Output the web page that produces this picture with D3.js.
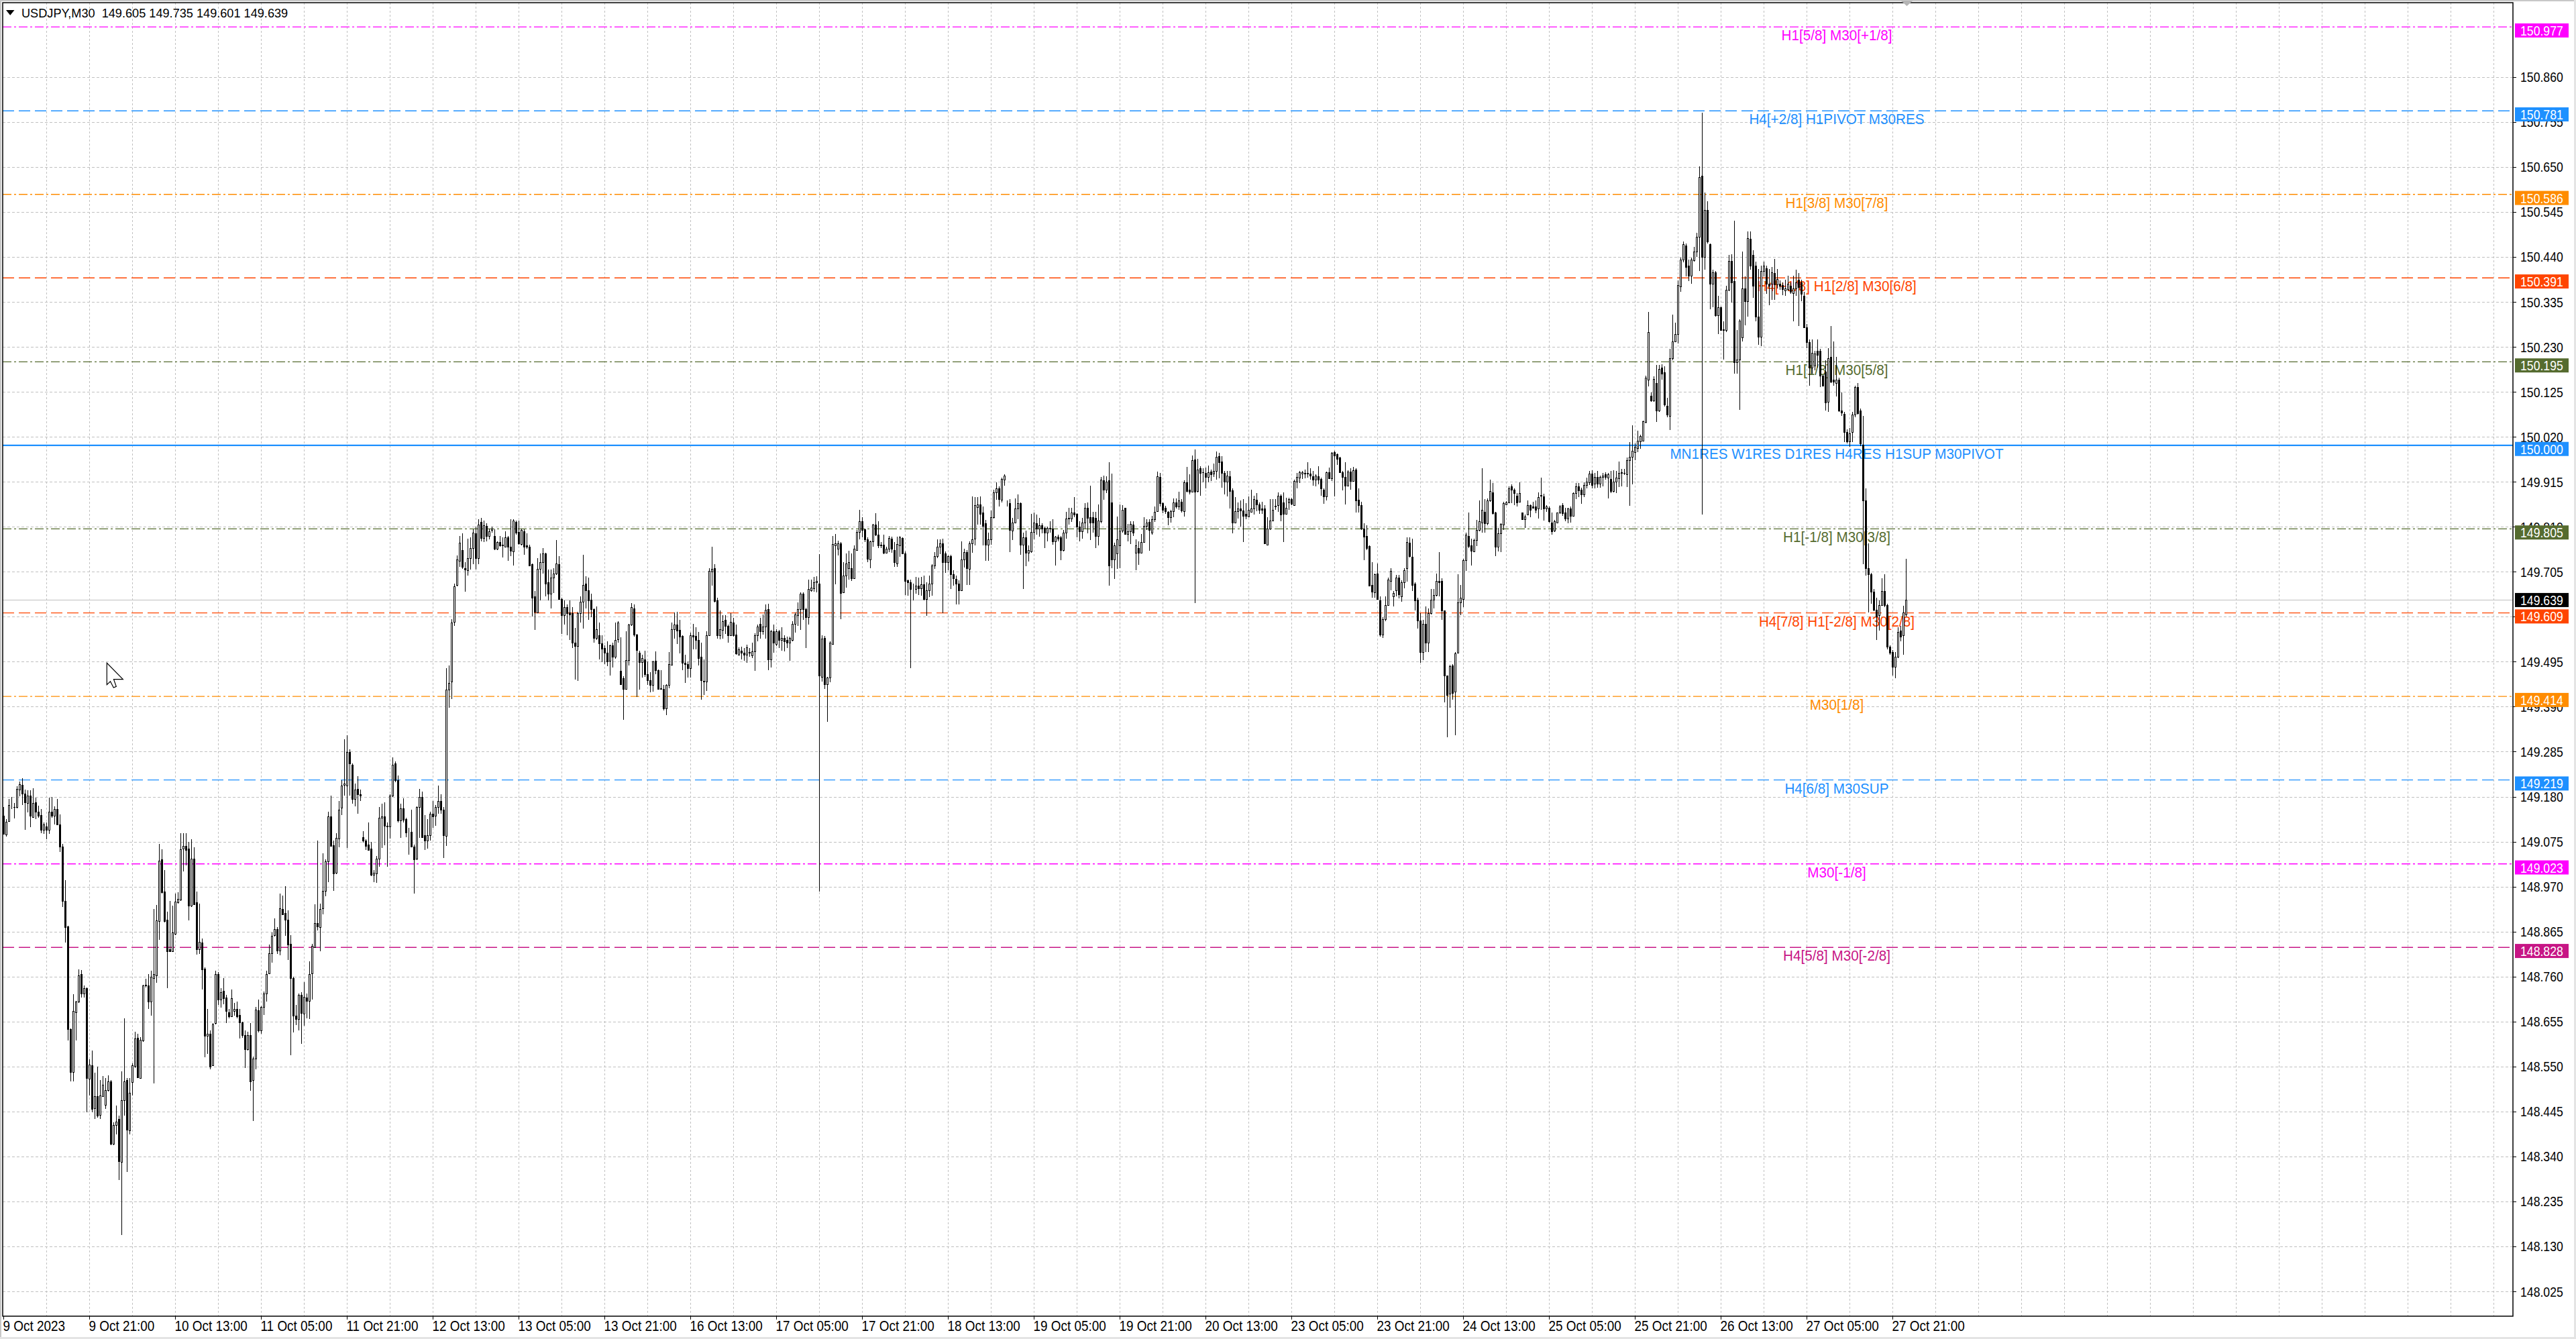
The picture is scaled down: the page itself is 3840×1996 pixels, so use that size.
<!DOCTYPE html>
<html><head><meta charset="utf-8">
<script src="https://cdn.jsdelivr.net/npm/d3@7"></script>
<style>html,body{margin:0;padding:0;background:#fff;overflow:hidden}svg{display:block}text{font-family:"Liberation Sans",Arial,sans-serif}</style>
</head><body><svg id="c" width="3840" height="1996"></svg>
<script>
// ---------------- DATA ----------------
const symbolTitle = "USDJPY,M30";
const headerOHLC = ["149.605", "149.735", "149.601", "149.639"];
// prices are stored in points: price = PRICE_BASE + pts * POINT
const PRICE_BASE = 148, POINT = 0.001;
const openPts = [
1135,1091,1123,1157,1156,1155,1197,1208,1187,1165,1183,1133,1167,1145,1137,1103,1111,1103,1145,1135,
1151,1115,1063,937,877,637,537,677,701,765,721,733,521,553,453,481,437,481,461,495,
515,369,413,427,327,471,519,401,513,551,617,523,611,739,739,701,757,763,889,1033,
959,893,823,819,859,933,939,1059,1065,1059,925,1035,933,823,839,779,621,627,553,651,
765,707,727,711,677,667,679,685,671,653,623,591,623,519,569,681,635,689,721,767,
815,857,871,821,917,909,893,837,757,669,661,717,673,711,703,767,829,885,875,
920,960,1029,1134,1066,1002,1082,1154,1208,1206,1284,1254,1174,1198,1186,1085,1077,1068,1058,998,
1000,1035,1131,1134,1112,1110,1182,1257,1218,1124,1152,1128,1096,1098,1064,1035,1155,1179,1090,1077,
1090,1140,1136,1156,1170,1149,1089,1430,1448,1588,1674,1731,1756,1713,1708,1737,1761,1795,1736,1821,
1784,1812,1788,1802,1788,1758,1774,1768,1764,1785,1764,1752,1822,1798,1770,1800,1766,1764,1722,1647,
1610,1712,1728,1748,1680,1653,1692,1701,1722,1642,1604,1623,1610,1608,1540,1532,1608,1635,1678,1662,
1640,1618,1551,1557,1538,1527,1516,1497,1533,1506,1548,1473,1456,1431,1498,1581,1620,1558,1516,1494,
1501,1466,1452,1440,1497,1475,1433,1432,1386,1440,1488,1570,1581,1569,1555,1493,1490,1480,1556,1555,
1545,1506,1450,1448,1556,1706,1714,1638,1556,1569,1592,1579,1556,1586,1558,1512,1521,1516,1511,1517,
1510,1519,1556,1584,1566,1577,1618,1501,1566,1537,1566,1545,1550,1545,1540,1545,1584,1603,1618,1654,
1618,1599,1662,1667,1680,1678,1460,1550,1443,1458,1537,1766,1758,1771,1657,1696,1714,1714,1690,1756,
1798,1823,1804,1780,1733,1776,1815,1791,1768,1768,1750,1758,1782,1756,1725,1767,1784,1748,1685,1681,
1664,1664,1673,1667,1675,1642,1662,1678,1719,1741,1763,1772,1748,1727,1741,1699,1688,1678,1662,1733,
1751,1712,1772,1782,1856,1862,1843,1818,1768,1781,1833,1890,1900,1873,1920,1866,1865,1801,1819,1853,
1865,1768,1786,1750,1753,1798,1818,1805,1814,1807,1797,1808,1806,1776,1787,1786,1755,1797,1830,1829,
1844,1840,1810,1799,1819,1855,1833,1832,1831,1789,1823,1918,1897,1918,1866,1733,1747,1766,1801,1854,
1793,1799,1815,1750,1761,1750,1775,1812,1822,1797,1827,1847,1927,1865,1854,1845,1832,1846,1867,1857,
1869,1846,1914,1896,1892,1967,1893,1947,1938,1935,1927,1939,1934,1940,1975,1963,1935,1916,1928,1895,
1819,1846,1852,1848,1840,1834,1845,1852,1873,1862,1853,1853,1768,1805,1824,1858,1860,1883,1867,1840,
1866,1875,1861,1916,1925,1934,1934,1934,1934,1928,1920,1928,1922,1897,1881,1937,1923,1984,1979,1972,
1937,1926,1906,1939,1917,1944,1873,1861,1805,1789,1765,1674,1657,1700,1638,1558,1594,1627,1683,1647,
1661,1692,1648,1681,1713,1773,1740,1677,1639,1591,1518,1584,1540,1608,1639,1650,1684,1683,1614,1462,
1421,1486,1425,1516,1634,1641,1732,1789,1766,1752,1779,1803,1820,1845,1818,1871,1891,1843,1763,1794,
1815,1862,1867,1905,1897,1883,1869,1843,1828,1839,1860,1858,1857,1852,1883,1881,1853,1855,1819,1801,
1820,1843,1860,1843,1829,1853,1836,1888,1905,1897,1886,1908,1914,1934,1910,1927,1911,1926,1932,1925,
1921,1894,1915,1923,1936,1936,1933,1965,1974,1985,1994,2010,2011,2054,2154,2116,2105,2145,2081,2182,
2171,2093,2069,2203,2243,2260,2371,2434,2467,2419,2396,2432,2452,2487,2629,2440,2549,2469,2378,2404,
2303,2323,2269,2269,2363,2431,2383,2194,2200,2252,2367,2336,2483,2445,2420,2300,2253,2407,2413,2378,
2378,2402,2376,2378,2374,2362,2365,2372,2356,2367,2387,2380,2349,2276,2241,2182,2187,2220,2220,2163,
2172,2102,2207,2153,2145,2153,2082,2074,2031,2010,2031,2072,2136,2082,2002,1871,1714,1699,1658,1616,
1604,1627,1660,1627,1530,1518,1483,1507,1567,1556,1605];
const highPts = [
1155,1127,1175,1179,1165,1205,1215,1223,1197,1195,1195,1199,1177,1159,1151,1119,1119,1177,1179,1157,
1175,1139,1069,985,879,639,719,703,777,775,739,735,567,587,535,549,519,527,523,529,
519,419,459,435,539,663,523,523,557,631,627,619,741,755,765,773,917,927,1069,1057,
1009,911,937,925,953,957,1094,1094,1094,1075,1081,1061,959,931,849,781,685,635,651,773,
771,733,757,717,685,729,699,701,685,655,635,631,651,573,689,707,691,725,773,835,
863,895,875,953,949,971,915,857,759,693,721,723,747,721,795,837,929,1077,931,
1047,1033,1144,1182,1077,1094,1170,1218,1314,1323,1290,1257,1210,1228,1197,1100,1080,1120,1074,1008,
1041,1155,1164,1166,1119,1185,1272,1263,1230,1164,1176,1131,1107,1149,1068,1158,1198,1191,1137,1128,
1144,1170,1161,1206,1186,1155,1480,1486,1594,1677,1743,1788,1794,1728,1782,1785,1804,1810,1828,1830,
1824,1818,1806,1810,1804,1776,1788,1785,1800,1788,1828,1828,1824,1824,1806,1804,1794,1768,1725,1660,
1737,1748,1761,1750,1710,1710,1713,1779,1742,1644,1638,1628,1638,1622,1574,1611,1647,1744,1695,1692,
1654,1620,1624,1587,1557,1533,1542,1534,1540,1587,1590,1552,1461,1566,1584,1632,1629,1560,1521,1512,
1521,1495,1471,1497,1519,1477,1475,1440,1443,1517,1586,1610,1612,1592,1556,1511,1495,1563,1584,1576,
1564,1540,1501,1566,1714,1763,1722,1644,1615,1603,1603,1582,1608,1597,1582,1529,1530,1527,1534,1527,
1540,1562,1581,1597,1605,1629,1631,1569,1582,1571,1569,1575,1556,1553,1553,1590,1610,1633,1657,1657,
1621,1686,1686,1693,1694,1746,1556,1555,1460,1543,1789,1793,1778,1774,1728,1748,1754,1748,1767,1803,
1849,1832,1806,1785,1778,1817,1842,1823,1774,1791,1764,1789,1787,1774,1787,1789,1785,1752,1686,1686,
1677,1693,1691,1693,1696,1680,1696,1722,1751,1780,1780,1782,1752,1743,1745,1709,1696,1685,1776,1758,
1755,1776,1881,1880,1880,1881,1857,1826,1797,1848,1897,1914,1905,1925,1932,1871,1875,1831,1876,1886,
1867,1797,1801,1766,1840,1844,1839,1831,1818,1810,1810,1823,1828,1789,1792,1789,1802,1845,1854,1854,
1879,1841,1823,1831,1865,1867,1906,1845,1845,1862,1926,1930,1928,1960,1934,1773,1834,1862,1861,1855,
1817,1823,1823,1781,1776,1793,1832,1828,1828,1836,1858,1939,1935,1867,1859,1846,1849,1876,1876,1892,
1875,1918,1949,1933,1977,1990,1969,1951,1946,1948,1953,1943,1958,1986,1982,1975,1940,1940,1940,1900,
1880,1867,1871,1874,1865,1881,1897,1883,1888,1866,1869,1861,1832,1874,1874,1874,1890,1886,1891,1878,
1878,1878,1920,1935,1940,1940,1943,1961,1946,1940,1933,1951,1925,1900,1939,1948,1985,1987,1981,1974,
1940,1960,1942,1947,1949,1947,1900,1869,1818,1814,1767,1728,1700,1724,1648,1599,1648,1691,1714,1660,
1697,1698,1685,1713,1786,1785,1782,1681,1644,1609,1592,1624,1619,1664,1664,1700,1751,1690,1615,1463,
1488,1489,1518,1699,1674,1735,1797,1843,1782,1782,1826,1871,1947,1875,1876,1920,1912,1845,1808,1818,
1869,1870,1905,1909,1900,1888,1914,1844,1838,1871,1862,1869,1871,1890,1925,1887,1860,1857,1843,1826,
1844,1861,1865,1854,1855,1857,1890,1912,1912,1901,1913,1925,1940,1942,1935,1940,1930,1935,1938,1935,
1940,1942,1940,1963,1945,1945,1971,2007,2047,2004,2034,2025,2058,2163,2312,2123,2161,2188,2188,2189,
2185,2111,2225,2305,2287,2385,2438,2476,2472,2434,2438,2463,2496,2652,2776,2591,2570,2472,2410,2407,
2349,2324,2289,2372,2445,2447,2525,2269,2294,2452,2394,2500,2500,2456,2429,2411,2420,2429,2420,2411,
2416,2436,2411,2385,2380,2387,2396,2380,2396,2410,2403,2387,2358,2283,2247,2247,2220,2247,2225,2165,
2198,2227,2278,2243,2207,2158,2123,2078,2038,2040,2078,2140,2145,2086,2069,1900,1772,1702,1665,1645,
1638,1690,1699,1631,1533,1522,1518,1576,1578,1625,1735];
const lowPts = [
1091,1087,1121,1151,1129,1153,1181,1161,1103,1143,1109,1131,1127,1131,1095,1093,1081,1093,1131,1115,
1113,1051,923,839,611,515,515,611,699,711,711,443,483,443,427,431,427,479,451,491,
367,367,391,285,157,435,303,391,483,547,523,523,607,735,685,669,511,745,845,953,
887,733,817,817,857,931,937,1005,1019,891,923,927,811,813,729,571,579,543,551,649,
693,687,695,651,663,665,669,663,615,617,547,587,493,423,543,629,627,671,701,765,
793,853,813,809,903,855,799,577,629,647,635,603,645,663,661,707,827,867,819,
905,948,981,1064,960,999,1062,1137,1182,1060,1182,1164,1158,1140,1170,1072,1056,1054,994,981,
978,1017,1060,1066,1017,1082,1180,1214,1119,1083,1119,1086,1044,1062,954,1032,1083,1084,1056,1059,
1077,1107,1112,1140,1140,1036,1065,1388,1408,1578,1671,1716,1712,1658,1696,1710,1722,1710,1722,1776,
1775,1776,1780,1796,1756,1755,1764,1738,1762,1731,1742,1720,1791,1768,1767,1744,1758,1719,1600,1569,
1608,1638,1701,1647,1638,1620,1656,1698,1640,1560,1581,1557,1545,1527,1454,1450,1586,1572,1620,1593,
1599,1540,1546,1500,1494,1490,1485,1462,1482,1502,1540,1440,1360,1430,1486,1578,1554,1412,1430,1458,
1460,1440,1423,1425,1466,1430,1430,1382,1371,1433,1486,1549,1536,1514,1475,1446,1458,1458,1523,1523,
1486,1406,1417,1427,1555,1673,1634,1549,1547,1549,1560,1540,1555,1553,1512,1510,1501,1497,1493,1506,
1504,1473,1543,1549,1558,1549,1475,1482,1516,1532,1527,1521,1519,1527,1497,1543,1563,1579,1569,1592,
1527,1582,1659,1659,1657,959,1449,1432,1354,1447,1536,1675,1743,1594,1655,1668,1686,1683,1688,1754,
1780,1785,1774,1727,1714,1764,1789,1761,1761,1746,1748,1751,1750,1717,1717,1740,1746,1651,1649,1480,
1638,1654,1651,1649,1638,1602,1646,1649,1712,1737,1746,1608,1703,1709,1664,1673,1629,1628,1660,1715,
1674,1674,1749,1766,1815,1815,1767,1730,1730,1768,1829,1873,1857,1867,1906,1857,1751,1779,1818,1828,
1744,1664,1718,1729,1750,1781,1792,1787,1794,1760,1776,1797,1768,1720,1776,1732,1753,1782,1815,1822,
1832,1786,1776,1782,1805,1794,1779,1796,1761,1767,1818,1873,1888,1673,1713,1688,1711,1714,1797,1792,
1776,1770,1789,1708,1721,1749,1773,1803,1754,1792,1822,1845,1857,1841,1840,1814,1819,1832,1853,1850,
1843,1834,1890,1885,1891,1632,1890,1883,1913,1900,1913,1917,1927,1920,1923,1902,1886,1881,1853,1794,
1818,1829,1810,1775,1828,1832,1843,1839,1846,1840,1840,1770,1768,1803,1823,1849,1845,1823,1775,1838,
1850,1860,1860,1899,1912,1921,1923,1925,1920,1906,1905,1909,1883,1864,1871,1921,1917,1881,1955,1935,
1895,1862,1905,1897,1917,1844,1843,1803,1732,1755,1672,1644,1644,1639,1554,1551,1589,1625,1662,1624,
1648,1643,1635,1666,1682,1739,1660,1615,1572,1493,1498,1518,1518,1605,1619,1648,1648,1593,1400,1318,
1387,1406,1323,1515,1604,1622,1707,1760,1720,1751,1765,1799,1796,1796,1814,1869,1839,1742,1752,1751,
1803,1860,1866,1865,1861,1857,1867,1827,1807,1838,1832,1852,1841,1829,1849,1824,1845,1820,1792,1798,
1818,1840,1836,1823,1818,1819,1834,1874,1880,1864,1880,1900,1908,1900,1900,1902,1902,1904,1920,1876,
1889,1891,1889,1903,1905,1931,1903,1859,1909,1965,1985,1992,2010,2052,2138,2102,2102,2054,2078,2154,
2090,2065,2036,2198,2241,2238,2358,2428,2394,2383,2378,2429,2440,2407,1838,2410,2472,2318,2323,2300,
2260,2269,2200,2265,2360,2333,2167,2167,2083,2243,2280,2300,2410,2345,2290,2235,2232,2394,2354,2327,
2340,2340,2367,2363,2351,2349,2360,2354,2289,2349,2278,2336,2274,2227,2140,2167,2176,2182,2136,2138,
2081,2078,2145,2140,2114,2078,2069,2007,2004,1996,2007,2065,2072,1998,1722,1696,1610,1631,1613,1545,
1567,1625,1622,1524,1512,1462,1456,1503,1542,1512,1601];
const closePts = [
1093,1121,1161,1158,1155,1198,1209,1187,1167,1183,1135,1165,1145,1135,1103,1115,1103,1145,1135,1151,
1115,1063,937,875,637,537,679,701,763,721,733,523,555,451,481,435,483,507,495,515,
369,413,421,329,471,515,403,489,553,615,525,613,739,740,701,759,765,891,1031,957,
889,819,819,863,935,941,1057,1065,1055,925,1035,929,823,841,777,621,627,549,649,765,
707,723,709,679,667,709,685,667,653,623,591,623,515,569,683,635,689,721,765,815,
855,871,821,919,905,893,835,757,669,661,717,675,713,703,765,831,885,877,917,
960,1029,1134,1065,1000,1083,1150,1206,1210,1284,1257,1174,1197,1186,1182,1077,1065,1056,998,1002,
1035,1131,1134,1112,1110,1182,1254,1218,1124,1152,1126,1096,1097,1064,1034,1155,1180,1086,1078,1090,
1140,1134,1156,1170,1149,1090,1430,1446,1587,1671,1734,1773,1716,1710,1737,1761,1797,1736,1815,1784,
1814,1788,1800,1806,1758,1774,1766,1767,1786,1764,1754,1824,1797,1772,1802,1764,1764,1720,1644,1611,
1712,1728,1748,1677,1654,1692,1701,1725,1642,1604,1623,1608,1606,1540,1532,1608,1635,1674,1662,1638,
1617,1551,1570,1538,1526,1516,1496,1533,1506,1545,1586,1443,1431,1498,1582,1623,1558,1522,1494,1503,
1466,1451,1440,1495,1475,1432,1432,1386,1441,1490,1571,1581,1568,1553,1493,1490,1480,1556,1553,1545,
1504,1451,1448,1556,1707,1711,1636,1556,1571,1590,1579,1556,1588,1556,1514,1523,1516,1511,1529,1516,
1519,1556,1577,1566,1577,1616,1501,1566,1540,1566,1545,1551,1543,1540,1551,1584,1605,1618,1654,1618,
1599,1664,1668,1681,1683,1462,1549,1443,1458,1540,1769,1771,1771,1655,1696,1725,1728,1690,1758,1798,
1823,1803,1780,1735,1776,1815,1791,1766,1767,1750,1758,1784,1759,1728,1769,1785,1748,1683,1681,1665,
1665,1673,1667,1675,1642,1662,1678,1719,1741,1763,1771,1728,1727,1741,1699,1690,1677,1662,1733,1751,
1713,1772,1781,1860,1862,1840,1812,1768,1781,1833,1890,1900,1875,1921,1930,1867,1802,1819,1853,1865,
1768,1786,1750,1755,1798,1819,1805,1814,1805,1797,1807,1805,1776,1787,1782,1755,1797,1829,1829,1844,
1838,1810,1799,1819,1855,1831,1819,1819,1789,1824,1920,1897,1916,1720,1733,1766,1781,1801,1850,1793,
1799,1817,1796,1766,1750,1775,1812,1819,1803,1827,1845,1928,1865,1849,1846,1832,1846,1866,1857,1871,
1848,1914,1893,1892,1965,1892,1944,1935,1937,1926,1937,1933,1940,1973,1960,1935,1916,1930,1893,1819,
1846,1853,1848,1836,1836,1849,1852,1874,1862,1850,1849,1772,1805,1824,1850,1859,1883,1839,1840,1854,
1875,1864,1917,1926,1937,1937,1935,1935,1930,1920,1930,1920,1899,1881,1937,1923,1982,1977,1968,1937,
1926,1906,1939,1917,1942,1871,1861,1805,1787,1761,1673,1659,1699,1641,1558,1594,1627,1686,1707,1656,
1692,1652,1681,1709,1775,1742,1674,1638,1591,1518,1584,1540,1608,1639,1650,1683,1681,1615,1463,1417,
1485,1422,1515,1634,1644,1732,1792,1765,1754,1779,1803,1823,1849,1818,1871,1893,1841,1763,1794,1817,
1865,1867,1900,1897,1888,1866,1888,1828,1834,1860,1849,1855,1849,1880,1884,1853,1857,1823,1799,1823,
1843,1858,1841,1829,1853,1836,1888,1905,1895,1886,1908,1916,1934,1908,1926,1911,1926,1929,1927,1933,
1894,1915,1924,1936,1937,1935,1965,1974,1987,1996,2011,2022,2056,2158,2265,2105,2155,2081,2179,2167,
2096,2072,2203,2243,2260,2374,2434,2469,2416,2396,2434,2452,2487,2627,2440,2549,2476,2378,2404,2303,
2323,2270,2271,2363,2431,2380,2194,2200,2291,2367,2336,2484,2420,2372,2300,2253,2407,2420,2378,2372,
2404,2376,2389,2372,2365,2367,2378,2358,2367,2380,2369,2354,2276,2241,2182,2216,2215,2212,2163,2140,
2100,2203,2149,2149,2153,2081,2076,2031,2010,2028,2072,2136,2075,2004,1871,1714,1699,1658,1616,1601,
1627,1660,1627,1530,1516,1483,1507,1565,1554,1610,1639];

const timeLabels = ["9 Oct 2023","9 Oct 21:00","10 Oct 13:00","11 Oct 05:00","11 Oct 21:00","12 Oct 13:00",
  "13 Oct 05:00","13 Oct 21:00","16 Oct 13:00","17 Oct 05:00","17 Oct 21:00","18 Oct 13:00","19 Oct 05:00",
  "19 Oct 21:00","20 Oct 13:00","23 Oct 05:00","23 Oct 21:00","24 Oct 13:00","25 Oct 05:00","25 Oct 21:00",
  "26 Oct 13:00","27 Oct 05:00","27 Oct 21:00"];
const BARS_PER_LABEL = 32;   // one time label every 32 bars (16 h of M30)
const BARS_PER_GRID = 16;

const priceTicks = ["148.025","148.130","148.235","148.340","148.445","148.550","148.655","148.760","148.865",
  "148.970","149.075","149.180","149.285","149.390","149.495","149.600","149.705","149.810","149.915","150.020",
  "150.125","150.230","150.335","150.440","150.545","150.650","150.755","150.860"];

const levelPrices = [150.977,150.781,150.586,150.391,150.195,150.000,149.805,149.609,149.414,149.219,149.023,148.828];
const levelNames = ["H1[5/8] M30[+1/8]","H4[+2/8] H1PIVOT M30RES","H1[3/8] M30[7/8]","H4[+1/8] H1[2/8] M30[6/8]",
  "H1[1/8] M30[5/8]","MN1RES W1RES D1RES H4RES H1SUP M30PIVOT","H1[-1/8] M30[3/8]","H4[7/8] H1[-2/8] M30[2/8]",
  "M30[1/8]","H4[6/8] M30SUP","M30[-1/8]","H4[5/8] M30[-2/8]"];
const bidPrice = 149.639;

// ---------------- STYLES ----------------
const levelColors = ["#FF00FF","#1E90FF","#FF8C00","#FF4500","#556B2F","#1E90FF","#556B2F","#FF4500","#FF8C00","#1E90FF","#FF00FF","#C71585"];
const levelKinds  = ["dashdot","dash","dashdot","dash","dashdot","solid","dashdot","dash","dashdot","dash","dashdot","dash"];
const dashArrays = {dash:"17,7", dashdot:"13,4,3,4", solid:null};

// ---------------- DRAW ----------------
const W = 3840, H = 1996;
const plot = {left:4, top:4, right:3746, bottom:1962};
const svg = d3.select("#c");
const price = p => PRICE_BASE + p * POINT;

const y = d3.scaleLinear().domain([+priceTicks[0], +priceTicks[priceTicks.length-1]]).range([1925, 114.8]);
const nBars = closePts.length;
const x = d3.scaleLinear().domain([0, nBars - 1]).range([5.5, 5.5 + 4 * (nBars - 1)]);

function condense(sel, f) {
  sel.each(function () {
    const L = this.getComputedTextLength();
    this.setAttribute("textLength", (L * f).toFixed(1));
    this.setAttribute("lengthAdjust", "spacingAndGlyphs");
  });
}

svg.append("rect").attr("width", W).attr("height", H).attr("fill", "#fff");
// window chrome
svg.append("rect").attr("x",0).attr("y",0).attr("width",W).attr("height",2).attr("fill","#c8c8c8");
svg.append("rect").attr("x",0).attr("y",0).attr("width",2).attr("height",H).attr("fill","#c8c8c8");
svg.append("rect").attr("x",0).attr("y",H-3).attr("width",W).attr("height",3).attr("fill","#e4e4e4");
svg.append("rect").attr("x",W-3).attr("y",0).attr("width",3).attr("height",H).attr("fill","#e4e4e4");

svg.append("defs").append("clipPath").attr("id","clip").append("rect")
  .attr("x", plot.left).attr("y", plot.top).attr("width", plot.right - plot.left).attr("height", plot.bottom - plot.top);

const gGrid = svg.append("g").attr("clip-path","url(#clip)").attr("shape-rendering","crispEdges");
gGrid.selectAll("line.h").data(priceTicks).join("line")
  .attr("x1", plot.left).attr("x2", plot.right)
  .attr("y1", d => Math.round(y(+d)) + 0.5).attr("y2", d => Math.round(y(+d)) + 0.5)
  .attr("stroke", "#c0c0c0").attr("stroke-width", 1).attr("stroke-dasharray", "4,3");
const gridIdx = d3.range(BARS_PER_GRID, 100000, BARS_PER_GRID).filter(i => x(i) < plot.right).slice(0, 80);
gGrid.selectAll("line.v").data(gridIdx).join("line")
  .attr("x1", d => x(d)).attr("x2", d => x(d))
  .attr("y1", plot.top).attr("y2", plot.bottom)
  .attr("stroke", "#c0c0c0").attr("stroke-width", 1).attr("stroke-dasharray", "3,3");

// level lines
const gLev = svg.append("g").attr("clip-path","url(#clip)");
gLev.selectAll("line").data(levelPrices).join("line")
  .attr("x1", plot.left).attr("x2", plot.right)
  .attr("y1", d => y(d)).attr("y2", d => y(d))
  .attr("stroke", (d, i) => levelColors[i])
  .attr("stroke-width", (d, i) => levelKinds[i] === "solid" ? 2.2 : 1.3)
  .attr("stroke-dasharray", (d, i) => dashArrays[levelKinds[i]]);
const levTexts = gLev.selectAll("text").data(levelPrices).join("text")
  .attr("x", 2738).attr("y", d => y(d) + 20)
  .attr("text-anchor", "middle").attr("font-size", 22)
  .attr("fill", (d, i) => levelColors[i])
  .text((d, i) => levelNames[i]);
condense(levTexts, 0.94);

// bid line
svg.append("line").attr("x1", plot.left).attr("x2", plot.right)
  .attr("y1", Math.round(y(bidPrice)) + 0.5).attr("y2", Math.round(y(bidPrice)) + 0.5)
  .attr("stroke", "#c0c0c0").attr("stroke-width", 1).attr("shape-rendering","crispEdges");

// candles
const bars = d3.range(nBars).map(i => ({i, o: price(openPts[i]), h: price(highPts[i]), l: price(lowPts[i]), c: price(closePts[i])}));
const gC = svg.append("g").attr("clip-path","url(#clip)").attr("shape-rendering","crispEdges");
gC.selectAll("line").data(bars).join("line")
  .attr("x1", d => x(d.i)).attr("x2", d => x(d.i))
  .attr("y1", d => y(Math.max(d.h, d.o, d.c))).attr("y2", d => y(Math.min(d.l, d.o, d.c)))
  .attr("stroke", "#000").attr("stroke-width", 1);
gC.selectAll("rect").data(bars).join("rect")
  .each(function (d) {
    const top = y(Math.max(d.o, d.c)), bot = y(Math.min(d.o, d.c));
    const s = d3.select(this);
    if (d.c >= d.o) {
      s.attr("x", x(d.i) - 1).attr("width", 2)
       .attr("y", Math.round(top) + 0.5).attr("height", Math.max(0, Math.round(bot) - Math.round(top)))
       .attr("fill", "#fff").attr("stroke", "#000").attr("stroke-width", 1);
    } else {
      s.attr("x", x(d.i) - 1.5).attr("width", 3)
       .attr("y", Math.round(top)).attr("height", Math.max(1, Math.round(bot) - Math.round(top) + 1))
       .attr("fill", "#000");
    }
  });

// frame
svg.append("rect").attr("x", plot.left).attr("y", plot.top)
  .attr("width", plot.right - plot.left).attr("height", plot.bottom - plot.top)
  .attr("fill", "none").attr("stroke", "#000").attr("stroke-width", 1.5);

// chart shift marker
svg.append("path").attr("d", d3.line()([[x(nBars-1)-8, 1],[x(nBars-1)+10, 1],[x(nBars-1)+1, 9]]) + "Z").attr("fill", "#b4b4b4");

// price axis
const gA = svg.append("g");
gA.selectAll("line").data(priceTicks).join("line")
  .attr("x1", plot.right).attr("x2", plot.right + 5)
  .attr("y1", d => Math.round(y(+d)) + 0.5).attr("y2", d => Math.round(y(+d)) + 0.5)
  .attr("stroke", "#000").attr("stroke-width", 1);
const tickT = gA.selectAll("text").data(priceTicks).join("text")
  .attr("x", 3757).attr("y", d => y(+d) + 7.5)
  .attr("font-size", 21).attr("fill", "#000").text(d => d);
condense(tickT, 0.84);

// level price boxes
const boxes = levelPrices.map((p, i) => ({p, color: levelColors[i], off: 5.3}));
boxes.push({p: bidPrice, color: "#000", off: 0});
const gB = svg.append("g");
gB.selectAll("rect").data(boxes).join("rect")
  .attr("x", 3749).attr("width", 80)
  .attr("y", d => y(d.p) + d.off - 10.5).attr("height", 21)
  .attr("fill", d => d.color);
const boxT = gB.selectAll("text").data(boxes).join("text")
  .attr("x", 3757).attr("y", d => y(d.p) + d.off + 7.5)
  .attr("font-size", 21).attr("fill", "#fff").text(d => d.p.toFixed(3));
condense(boxT, 0.84);

// time axis
const gT = svg.append("g");
gT.selectAll("line").data(timeLabels).join("line")
  .attr("x1", (d, k) => x(k * BARS_PER_LABEL)).attr("x2", (d, k) => x(k * BARS_PER_LABEL))
  .attr("y1", plot.bottom).attr("y2", plot.bottom + 5)
  .attr("stroke", "#000").attr("stroke-width", 1);
const timeT = gT.selectAll("text").data(timeLabels).join("text")
  .attr("x", (d, k) => x(k * BARS_PER_LABEL) - 1).attr("y", 1984)
  .attr("font-size", 22).attr("fill", "#000").text(d => d);
condense(timeT, 0.86);

// header
svg.append("path").attr("d", d3.line()([[9, 15],[21.5, 15],[15.2, 22.7]]) + "Z").attr("fill", "#000");
const head = svg.append("text").attr("x", 32).attr("y", 26).attr("font-size", 19).attr("fill", "#000")
  .style("white-space", "pre")
  .text(symbolTitle + "  " + headerOHLC.join(" "));
condense(head, 0.955);

// mouse pointer left on the chart in the screenshot
svg.append("path")
  .attr("d", d3.line()([[159.3,988.3],[159.3,1020.7],[164.5,1015.8],[169.3,1025],[173.3,1023.3],[169.5,1012.7],[183.3,1012.7]]) + "Z")
  .attr("fill", "#fff").attr("stroke", "#000").attr("stroke-width", 1.2).attr("stroke-linejoin", "miter");
</script>
</body></html>
